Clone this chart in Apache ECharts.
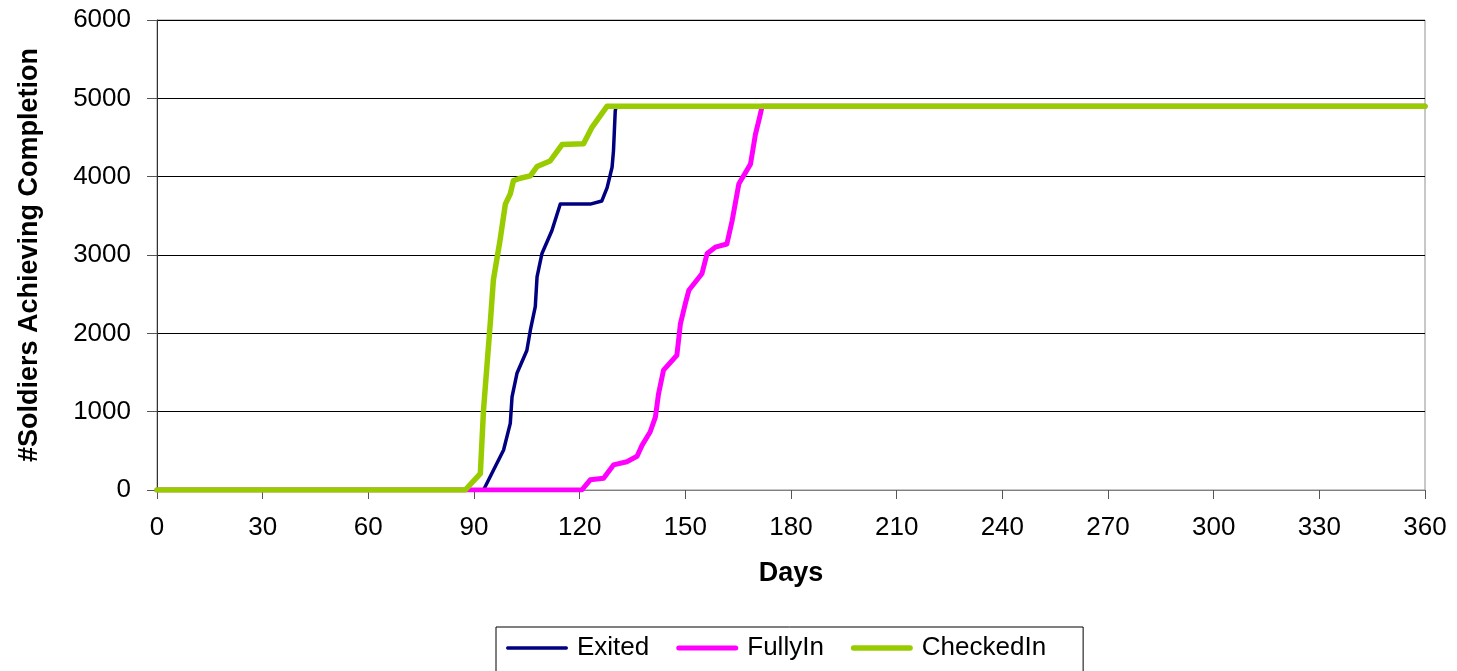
<!DOCTYPE html>
<html>
<head>
<meta charset="utf-8">
<script src="https://cdn.jsdelivr.net/npm/echarts@6/dist/echarts.min.js"></script>
<style>html,body{margin:0;padding:0;background:#fff;}#c{width:1457px;height:671px;}</style>
</head>
<body>
<div id="c"></div>
<script>
const seriesNames = ['Exited', 'FullyIn', 'CheckedIn'];
const xTicks = [0, 30, 60, 90, 120, 150, 180, 210, 240, 270, 300, 330, 360];
const yTicks = [0, 1000, 2000, 3000, 4000, 5000, 6000];

const exitedDays   = [0, 92.7, 98.4, 100.3, 100.8, 102.2, 105, 106, 107.4, 107.9, 109.3, 112.1, 114.5, 123, 126.3, 127.8, 129.2, 129.6, 130.1, 130.4, 360];
const exitedValues = [0, 0, 510, 850, 1190, 1490, 1780, 2040, 2340, 2720, 3020, 3310, 3650, 3650, 3690, 3860, 4120, 4330, 4840, 4900, 4900];

const fullyInDays   = [0, 120.6, 123, 126.8, 129.6, 133.4, 136.3, 137.7, 140, 141.5, 142.4, 143.8, 147.6, 148.6, 150, 151, 154.7, 156.2, 158.5, 161.8, 163.3, 165.2, 168.5, 169.9, 171.1, 171.8, 360];
const fullyInValues = [0, 0, 130, 150, 320, 360, 430, 570, 740, 930, 1230, 1530, 1720, 2120, 2380, 2550, 2760, 3020, 3100, 3140, 3440, 3910, 4160, 4540, 4760, 4900, 4900];

const checkedInDays   = [0, 87.5, 91.8, 92.7, 94.6, 95.5, 97.4, 98.9, 100.3, 101.2, 103.1, 106, 107.9, 111.6, 115, 121.1, 123.5, 127.8, 360];
const checkedInValues = [0, 0, 210, 1020, 2120, 2680, 3190, 3650, 3780, 3950, 3980, 4010, 4130, 4200, 4410, 4420, 4630, 4900, 4900];

const colors = ['#000080', '#FF00FF', '#99CC00'];
const widths = [3.5, 5, 5.5];
const legendIcons = [
  'path://M0,0M62,6M1.2,1.3H60.8A1.7,1.7,0,0,1,60.8,4.7H1.2A1.7,1.7,0,0,1,1.2,1.3Z',
  'path://M0,0M62,6M2.5,0.5H59.5A2.5,2.5,0,0,1,59.5,5.5H2.5A2.5,2.5,0,0,1,2.5,0.5Z',
  'path://M0,0M62,6M2.8,0.2H59.2A2.8,2.8,0,0,1,59.2,5.8H2.8A2.8,2.8,0,0,1,2.8,0.2Z'
];

function pairs(xs, ys) { return xs.map((x, i) => [x, ys[i]]); }
const allData = [pairs(exitedDays, exitedValues), pairs(fullyInDays, fullyInValues), pairs(checkedInDays, checkedInValues)];

const chart = echarts.init(document.getElementById('c'), null, {renderer: 'canvas'});
const font = '"Liberation Sans", Arial, sans-serif';

chart.setOption({
  animation: false,
  backgroundColor: '#fff',
  grid: {left: 157, right: 32, top: 20, bottom: 181, containLabel: false, outerBoundsMode: 'none',
         show: true, borderColor: '#909090', borderWidth: 1, backgroundColor: 'transparent'},
  legend: {
    data: seriesNames.map((n, i) => ({
      name: n, icon: legendIcons[i],
      itemStyle: {color: colors[i]},
      textStyle: {padding: [0, 0, 0, 4], fontSize: 26, fontFamily: font, color: '#000'}
    })),
    left: 496, top: 627,
    padding: [8, 37, 24, 10],
    itemGap: 27, itemWidth: 62, itemHeight: 6,
    borderColor: '#000', borderWidth: 1,
    textStyle: {fontSize: 26, fontFamily: font, color: '#000'}
  },
  xAxis: {
    type: 'value', min: xTicks[0], max: xTicks[xTicks.length - 1], interval: 30,
    name: 'Days', nameLocation: 'middle', nameGap: 70,
    nameTextStyle: {fontSize: 27, fontWeight: 'bold', fontFamily: font, color: '#000'},
    axisLine: {show: true, onZero: false, lineStyle: {color: '#808080', width: 1}},
    axisTick: {show: true, length: 9, lineStyle: {color: '#555'}},
    axisLabel: {fontSize: 26, fontFamily: font, color: '#000', margin: 25, formatter: v => String(v)},
    splitLine: {show: false}
  },
  yAxis: {
    type: 'value', min: yTicks[0], max: yTicks[yTicks.length - 1], interval: 1000,
    name: '#Soldiers Achieving Completion', nameLocation: 'middle', nameGap: 114,
    nameTextStyle: {fontSize: 27, fontWeight: 'bold', fontFamily: font, color: '#000'},
    axisLine: {show: true, onZero: false, lineStyle: {color: '#333', width: 1}},
    axisTick: {show: true, length: 10, lineStyle: {color: '#555'}},
    axisLabel: {fontSize: 26, fontFamily: font, color: '#000', margin: 26, formatter: v => String(v)},
    splitLine: {show: true, lineStyle: {color: '#000', width: 1}}
  },
  series: seriesNames.map((n, i) => ({
    name: n, type: 'line', data: allData[i],
    showSymbol: false, symbol: 'none',
    color: colors[i],
    lineStyle: {color: colors[i], width: widths[i], cap: 'round', join: 'round'},
    z: 2 + i
  }))
});
</script>
</body>
</html>
